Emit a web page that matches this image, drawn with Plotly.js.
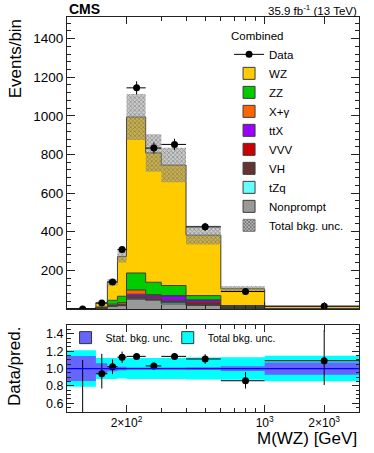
<!DOCTYPE html>
<html>
<head>
<meta charset="utf-8">
<script src="https://cdn.plot.ly/plotly-3.0.1.min.js"></script>
<style>
  body { margin: 0; background: #fff; }
  #chart { width: 374px; height: 453px; }
</style>
</head>
<body>
<div id="chart"></div>
<script>
/*globals Plotly*/
var FONT = 'Liberation Sans, Arial, sans-serif';

// binning in M(WZ) [GeV]
var binEdges = [100, 140, 160, 180, 200, 250, 300, 400, 600, 1000, 3000];
var dataX = [120, 150, 170, 190, 225, 275, 350, 500, 800, 2000];

// observed events and their errors
var dataY = [0, 30, 140, 308, 1145, 833, 852, 425, 90, 14];
var dataErr = [1.8, 5.5, 11.8, 17.5, 33.8, 28.9, 29.2, 20.6, 9.5, 3.7];

// predicted backgrounds, per bin
var nonprompt = [0.6, 4, 14, 17, 50, 45, 26, 18, 3, 0.3];
var tzq = [0, 0.2, 0.8, 1.5, 5, 3, 8, 4, 1, 0.2];
var vh = [0, 0.3, 1.2, 2, 5, 4, 4, 2, 1, 0.1];
var vvv = [0, 0.1, 0.5, 1, 6, 8, 7, 10, 3, 0.5];
var ttx = [0, 0.5, 2, 3, 10, 10, 22, 12, 3, 0.4];
var xgamma = [0.3, 1, 6, 8, 22, 4, 2, 1, 0.5, 0];
var zz = [0.2, 4, 20, 33, 88, 64, 52, 22, 6, 0.8];
var wz = [0.9, 22, 93, 206, 808, 670, 624, 313, 87, 11];

// relative uncertainties on the prediction
var totUncRel = [0.21, 0.12, 0.12, 0.115, 0.12, 0.12, 0.12, 0.127, 0.13, 0.147];
var statUncRel = [0.144, 0.06, 0.03, 0.02, 0.012, 0.012, 0.012, 0.015, 0.027, 0.07];

// data / prediction
var ratio = [0, 0.94, 1.02, 1.13, 1.14, 1.03, 1.14, 1.11, 0.86, 1.09];
var ratioErrUp = [1.1, 0.23, 0.085, 0.065, 0.035, 0.04, 0.04, 0.055, 0.1, 0.35];
var ratioErrDown = [0, 0.17, 0.085, 0.065, 0.035, 0.04, 0.04, 0.055, 0.09, 0.28];

// stack, bottom first
var components = [
  {name: 'Nonprompt', vals: nonprompt, color: '#999999'},
  {name: 'tZq', vals: tzq, color: '#66ffff'},
  {name: 'VH', vals: vh, color: '#663333'},
  {name: 'VVV', vals: vvv, color: '#cc0000'},
  {name: 'ttX', vals: ttx, color: '#9900ff'},
  {name: 'X+\u03b3', vals: xgamma, color: '#ff6600'},
  {name: 'ZZ', vals: zz, color: '#00cc00'},
  {name: 'WZ', vals: wz, color: '#ffcc00'}
];

function step(vals) {
  return vals.concat([vals[vals.length - 1]]);
}

var traces = [];
var cumul = binEdges.slice(1).map(function () { return 0; });

components.forEach(function (c, i) {
  cumul = cumul.map(function (v, j) { return v + c.vals[j]; });
  traces.push({
    type: 'scatter', mode: 'lines', x: binEdges, y: step(cumul),
    line: {shape: 'hv', color: '#3c3c3c', width: 1},
    fill: i === 0 ? 'tozeroy' : 'tonexty', fillcolor: c.color,
    showlegend: false, hoverinfo: 'skip', xaxis: 'x', yaxis: 'y'
  });
});
var total = cumul;

// hatched total uncertainty
traces.push({
  type: 'scatter', mode: 'lines', x: binEdges,
  y: step(total.map(function (v, j) { return v * (1 - totUncRel[j]); })),
  line: {shape: 'hv', width: 0}, showlegend: false, hoverinfo: 'skip'
});
traces.push({
  type: 'scatter', mode: 'lines', x: binEdges,
  y: step(total.map(function (v, j) { return v * (1 + totUncRel[j]); })),
  line: {shape: 'hv', width: 0}, fill: 'tonexty',
  fillcolor: 'rgba(150,150,150,0.5)',
  fillpattern: {shape: 'x', fgcolor: '#555555', size: 3, solidity: 0.45, fillmode: 'overlay'},
  showlegend: false, hoverinfo: 'skip'
});

var errLow = dataX.map(function (x, j) { return x - binEdges[j]; });
var errHigh = dataX.map(function (x, j) { return binEdges[j + 1] - x; });

traces.push({
  type: 'scatter', mode: 'markers', x: dataX, y: dataY,
  marker: {color: '#000', size: 7},
  error_y: {type: 'data', array: dataErr, color: '#000', thickness: 1, width: 0},
  error_x: {type: 'data', symmetric: false, array: errHigh, arrayminus: errLow,
    color: '#000', thickness: 1, width: 0},
  showlegend: false, xaxis: 'x', yaxis: 'y'
});

// ratio panel bands
function band(rel, color) {
  return [{
    type: 'scatter', mode: 'lines', x: binEdges,
    y: step(rel.map(function (r) { return 1 - r; })),
    line: {shape: 'hv', width: 0}, showlegend: false, hoverinfo: 'skip',
    xaxis: 'x2', yaxis: 'y2'
  }, {
    type: 'scatter', mode: 'lines', x: binEdges,
    y: step(rel.map(function (r) { return 1 + r; })),
    line: {shape: 'hv', width: 0}, fill: 'tonexty', fillcolor: color,
    showlegend: false, hoverinfo: 'skip', xaxis: 'x2', yaxis: 'y2'
  }];
}
traces = traces.concat(band(totUncRel, '#00ffff'), band(statUncRel, '#6666ff'));

traces.push({
  type: 'scatter', mode: 'markers', x: dataX, y: ratio,
  marker: {color: '#000', size: 7},
  error_y: {type: 'data', symmetric: false, array: ratioErrUp, arrayminus: ratioErrDown,
    color: '#000', thickness: 1, width: 0},
  error_x: {type: 'data', symmetric: false, array: errHigh, arrayminus: errLow,
    color: '#000', thickness: 1, width: 0},
  showlegend: false, xaxis: 'x2', yaxis: 'y2'
});

// legend-only entries
traces.push({
  type: 'scatter', mode: 'lines+markers', x: [null], y: [null], name: 'Data',
  marker: {color: '#000', size: 7}, line: {color: '#000', width: 1}, legend: 'legend'
});
components.slice().reverse().forEach(function (c) {
  traces.push({
    type: 'bar', x: [null], y: [null], name: c.name,
    marker: {color: c.color, line: {color: '#3c3c3c', width: 1}}, legend: 'legend'
  });
});
traces.push({
  type: 'bar', x: [null], y: [null], name: 'Total bkg. unc.',
  marker: {color: '#aaaaaa', line: {color: '#777', width: 1},
    pattern: {shape: 'x', fgcolor: '#555', bgcolor: '#bbbbbb', size: 3, solidity: 0.45}},
  legend: 'legend'
});
traces.push({
  type: 'bar', x: [null], y: [null], name: 'Stat. bkg. unc.',
  marker: {color: '#6666ff', line: {color: '#333', width: 1}}, legend: 'legend2'
});
traces.push({
  type: 'bar', x: [null], y: [null], name: 'Total bkg. unc.',
  marker: {color: '#00ffff', line: {color: '#333', width: 1}}, legend: 'legend3'
});

var xRange = [Math.log10(binEdges[0]), Math.log10(binEdges[binEdges.length - 1])];
var axisCommon = {
  showline: true, linecolor: '#222', linewidth: 1, mirror: 'allticks',
  ticks: 'inside', tickcolor: '#222', showgrid: false, zeroline: false,
  tickfont: {family: FONT, size: 13.5, color: '#000'}
};
var ratioLegend = {
  y: 0.225, xanchor: 'left', yanchor: 'top', orientation: 'h',
  bgcolor: 'rgba(0,0,0,0)', font: {family: FONT, size: 10.5}
};

var layout = {
  width: 374, height: 453,
  margin: {l: 67, r: 15, t: 17, b: 41},
  paper_bgcolor: '#fff', plot_bgcolor: '#fff',
  font: {family: FONT, color: '#000'},
  xaxis: Object.assign({}, axisCommon, {
    type: 'log', range: xRange, anchor: 'y', showticklabels: false,
    tickmode: 'array', tickvals: [200, 1000, 2000], ticklen: 7,
    minor: {tickmode: 'array', tickvals: [300, 400, 500, 600, 700, 800, 900, 3000],
      ticks: 'inside', ticklen: 4, tickcolor: '#222'}
  }),
  yaxis: Object.assign({}, axisCommon, {
    domain: [0.261, 1], range: [0, 1512], anchor: 'x',
    tickmode: 'array', tickvals: [200, 400, 600, 800, 1000, 1200, 1400], ticklen: 8,
    minor: {dtick: 40, tick0: 0, ticks: 'inside', ticklen: 4, tickcolor: '#222'}
  }),
  xaxis2: Object.assign({}, axisCommon, {
    type: 'log', range: xRange, anchor: 'y2', matches: 'x',
    tickmode: 'array', tickvals: [200, 1000, 2000], ticklen: 7,
    ticktext: ['2\u00d710<sup>2</sup>', '10<sup>3</sup>', '2\u00d710<sup>3</sup>'],
    tickfont: {family: FONT, size: 12, color: '#000'},
    minor: {tickmode: 'array', tickvals: [300, 400, 500, 600, 700, 800, 900, 3000],
      ticks: 'inside', ticklen: 4, tickcolor: '#222'}
  }),
  yaxis2: Object.assign({}, axisCommon, {
    domain: [0, 0.22], range: [0.5, 1.5], anchor: 'x2',
    tickmode: 'array', tickvals: [0.6, 0.8, 1.0, 1.2, 1.4], tickformat: '.1f', ticklen: 7,
    tickfont: {family: FONT, size: 12.5, color: '#000'},
    minor: {dtick: 0.05, tick0: 0.5, ticks: 'inside', ticklen: 3.5, tickcolor: '#222'}
  }),
  legend: {
    x: 0.555, y: 0.98, xanchor: 'left', yanchor: 'top',
    bgcolor: 'rgba(0,0,0,0)', font: {family: FONT, size: 11.5},
    title: {text: 'Combined', font: {family: FONT, size: 11.5}},
    traceorder: 'normal', itemwidth: 30
  },
  legend2: Object.assign({x: -0.005}, ratioLegend),
  legend3: Object.assign({x: 0.345}, ratioLegend),
  shapes: [{
    type: 'line', xref: 'x2 domain', x0: 0, x1: 1, yref: 'y2', y0: 1, y1: 1,
    line: {color: '#0000ff', width: 1.3}
  }],
  annotations: [
    {text: '<b>CMS</b>', xref: 'paper', yref: 'paper', x: 0, y: 1, xanchor: 'left',
      yanchor: 'bottom', showarrow: false, font: {family: FONT, size: 14}, yshift: -2},
    {text: '35.9 fb<sup>-1</sup> (13 TeV)', xref: 'paper', yref: 'paper', x: 1, y: 1,
      xanchor: 'right', yanchor: 'bottom', showarrow: false, font: {family: FONT, size: 11.5}, yshift: -2},
    {text: 'Events/bin', xref: 'paper', yref: 'paper', x: -0.178, y: 0.998,
      xanchor: 'center', yanchor: 'top', textangle: -90, showarrow: false,
      font: {family: FONT, size: 17}},
    {text: 'Data/pred.', xref: 'paper', yref: 'paper', x: -0.18, y: 0.115,
      xanchor: 'center', yanchor: 'middle', textangle: -90, showarrow: false,
      font: {family: FONT, size: 17}},
    {text: 'M(WZ) [GeV]', xref: 'paper', yref: 'paper', x: 1, y: -0.066,
      xanchor: 'right', yanchor: 'middle', showarrow: false,
      font: {family: FONT, size: 17}}
  ]
};

Plotly.newPlot('chart', traces, layout, {displayModeBar: false, staticPlot: true});
</script>
</body>
</html>
